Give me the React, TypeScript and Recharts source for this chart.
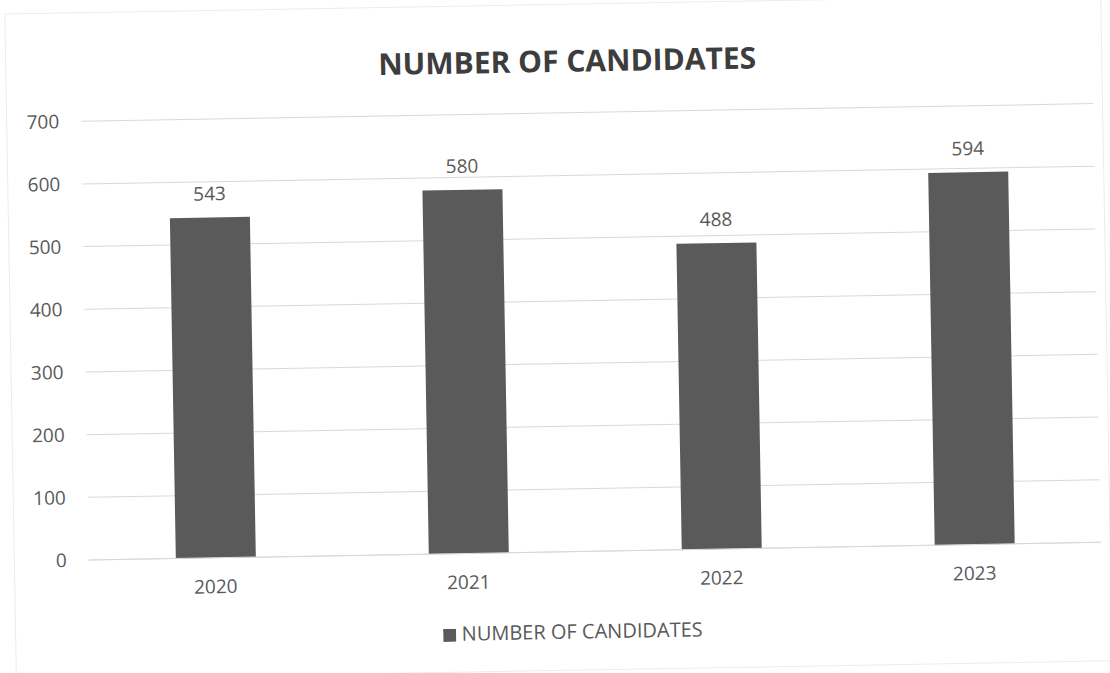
import { BarChart, Bar, XAxis, YAxis, CartesianGrid, Legend, LabelList } from 'recharts'

const years = ['2020', '2021', '2022', '2023']
const candidates = [543, 580, 488, 594]
const yTicks = [0, 100, 200, 300, 400, 500, 600, 700]

const data = years.map((year, i) => ({ year, candidates: candidates[i] }))

const FONT = '"Open Sans", "Liberation Sans", sans-serif'

export default function App() {
  return (
    <div style={{ position: 'absolute', left: 0, top: 0, width: 1110, height: 673, background: '#fff', overflow: 'hidden' }}>
      <div style={{ position: 'absolute', left: 0, top: 0, width: 1110, height: 673, transform: 'rotate(-1deg)', transformOrigin: '555px 336px', fontFamily: FONT }}>
        <div style={{ position: 'absolute', left: 10, top: 4, width: 1095, height: 665, border: '1px solid #ececec' }} />
        <div style={{ position: 'absolute', left: 17, width: 1110, top: 40, textAlign: 'center', fontSize: 30, fontWeight: 700, color: '#3d3d3d' }}>
          NUMBER OF CANDIDATES
        </div>
        <BarChart width={1110} height={673} data={data} margin={{ top: 113, right: 13, bottom: 35, left: 0 }}>
          <CartesianGrid vertical={false} stroke="#d9d9d9" />
          <XAxis dataKey="year" axisLine={{ stroke: '#d9d9d9' }} tickLine={false} tick={{ fill: '#595959', fontSize: 19 }} tickMargin={16} height={40} />
          <YAxis domain={[0, 700]} ticks={yTicks} width={85} axisLine={false} tickLine={false} tick={{ fill: '#595959', fontSize: 19 }} tickMargin={16} />
          <Legend
            verticalAlign="bottom"
            iconType="square"
            iconSize={13}
            wrapperStyle={{ top: 618, left: 24, fontSize: 20 }}
            formatter={(v) => <span style={{ color: '#595959', marginLeft: 2 }}>{v}</span>}
          />
          <Bar dataKey="candidates" name="NUMBER OF CANDIDATES" fill="#5a5a5a" barSize={80} isAnimationActive={false}>
            <LabelList dataKey="candidates" position="top" offset={17} fill="#595959" fontSize={19} />
          </Bar>
        </BarChart>
      </div>
    </div>
  )
}
